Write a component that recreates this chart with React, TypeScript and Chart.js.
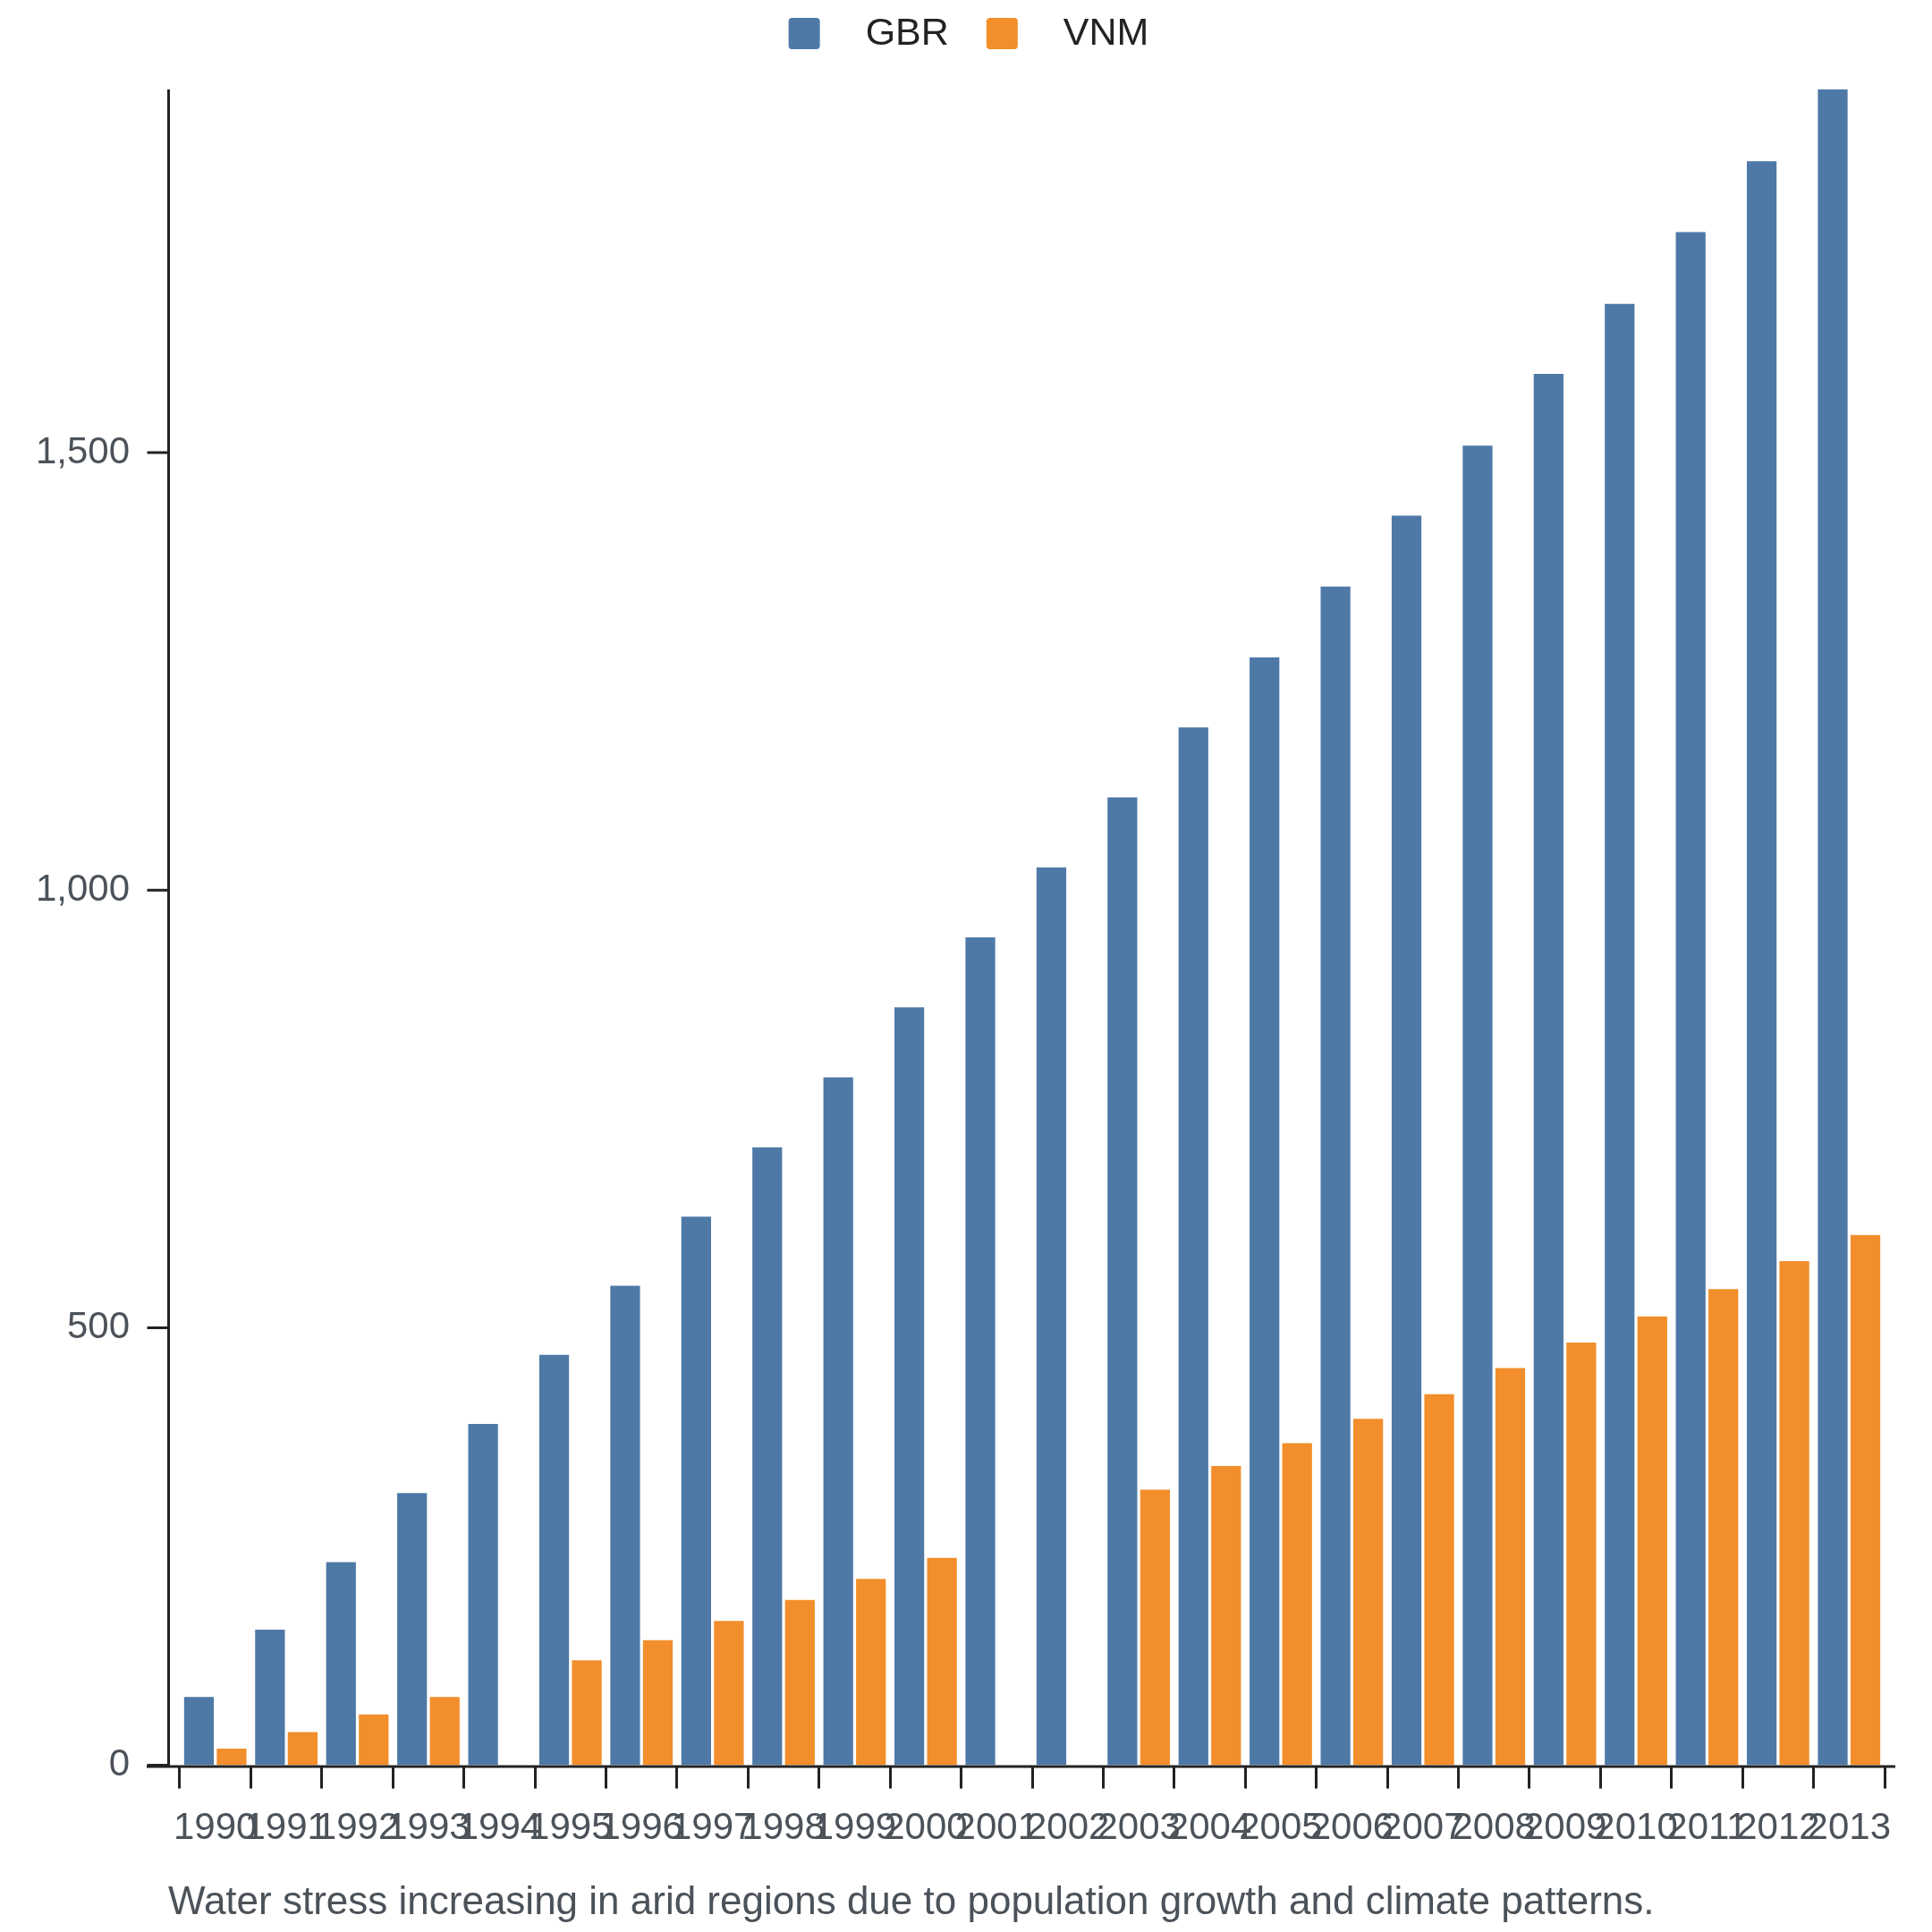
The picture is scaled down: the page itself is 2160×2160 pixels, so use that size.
import { useEffect, useRef } from 'react';
import Chart from 'chart.js/auto';

const years = [
  '1990', '1991', '1992', '1993', '1994', '1995', '1996', '1997', '1998', '1999', '2000', '2001',
  '2002', '2003', '2004', '2005', '2006', '2007', '2008', '2009', '2010', '2011', '2012', '2013',
];
const gbrValues = [
  78, 155, 232, 311, 390, 469, 548, 627, 706, 786, 866, 946,
  1026, 1106, 1186, 1266, 1347, 1428, 1508, 1590, 1670, 1752, 1833, 1915,
];
const vnmValues = [
  19, 38, 58, 78, null, 120, 143, 165, 189, 213, 237, null,
  null, 315, 342, 368, 396, 424, 454, 483, 513, 544, 576, 606,
];
const seriesNames = ['GBR', 'VNM'];
const seriesColors = ['#4e79a7', '#f28e2b'];
const yStep = 500;
const caption = 'Water stress increasing in arid regions due to population growth and climate patterns.';

const FONT = '"Liberation Sans", Arial, sans-serif';
const AXIS_COLOR = '#222222';
const LABEL_COLOR = '#4c5259';

// legend drawn by hand so the gaps match the original
const topLegend = {
  id: 'topLegend',
  afterDraw(chart: Chart) {
    const { ctx, width } = chart;
    const box = 35;
    const textGap = 51;
    const itemGap = 42;
    ctx.save();
    ctx.font = `43px ${FONT}`;
    ctx.textBaseline = 'middle';
    const items = chart.data.datasets.map((ds) => ({
      label: ds.label as string,
      color: ds.backgroundColor as string,
      w: ctx.measureText(ds.label as string).width,
    }));
    const total = items.reduce((s, it) => s + box + textGap + it.w, 0) + itemGap * (items.length - 1);
    let x = (width - total) / 2 + 3;
    const y = 37.5;
    items.forEach((it) => {
      ctx.fillStyle = it.color;
      ctx.beginPath();
      ctx.roundRect(x, y - box / 2, box, box, 4);
      ctx.fill();
      ctx.fillStyle = AXIS_COLOR;
      ctx.fillText(it.label, x + box + textGap, y + 1);
      x += box + textGap + it.w + itemGap;
    });
    ctx.restore();
  },
};

// axis lines sit a little outside the bar bands
const axisLines = {
  id: 'axisLines',
  afterDatasetsDraw(chart: Chart) {
    const { ctx, chartArea } = chart;
    const yScale = chart.scales.y;
    const axisX = chartArea.left - 12.5;
    ctx.save();
    ctx.strokeStyle = AXIS_COLOR;
    ctx.lineWidth = 3;
    ctx.beginPath();
    ctx.moveTo(axisX, chartArea.top);
    ctx.lineTo(axisX, chartArea.bottom + 3);
    ctx.moveTo(chartArea.left - 37, chartArea.bottom + 1.5);
    ctx.lineTo(chartArea.right + 12, chartArea.bottom + 1.5);
    yScale.ticks.forEach((t) => {
      const py = yScale.getPixelForValue(t.value);
      ctx.moveTo(axisX - 24, py);
      ctx.lineTo(axisX, py);
    });
    ctx.stroke();
    ctx.restore();
  },
};

const App = () => {
  const chartRef = useRef<HTMLCanvasElement | null>(null);
  const chartInstance = useRef<Chart | null>(null);

  useEffect(() => {
    if (!chartRef.current) return;
    if (chartInstance.current) chartInstance.current.destroy();

    chartInstance.current = new Chart(chartRef.current, {
      type: 'bar',
      data: {
        labels: years,
        datasets: [
          {
            label: seriesNames[0],
            data: gbrValues,
            backgroundColor: seriesColors[0],
            categoryPercentage: 0.92,
            barPercentage: 0.91,
          },
          {
            label: seriesNames[1],
            data: vnmValues,
            backgroundColor: seriesColors[1],
            categoryPercentage: 0.92,
            barPercentage: 0.91,
          },
        ],
      },
      options: {
        animation: false,
        responsive: true,
        maintainAspectRatio: false,
        layout: { padding: { top: 100, right: 53, bottom: 70, left: 0 } },
        font: { family: FONT },
        plugins: {
          legend: { display: false },
          tooltip: { enabled: false },
        },
        scales: {
          x: {
            offset: true,
            border: { display: false },
            grid: {
              offset: true,
              drawOnChartArea: false,
              drawTicks: true,
              tickLength: 26,
              color: AXIS_COLOR,
              lineWidth: 3,
            },
            ticks: {
              autoSkip: false,
              maxRotation: 0,
              minRotation: 0,
              padding: 20,
              color: LABEL_COLOR,
              font: { family: FONT, size: 42 },
            },
          },
          y: {
            min: 0,
            bounds: 'data',
            border: { display: false },
            grid: { display: false },
            afterFit: (scale) => {
              scale.width = 201;
            },
            // the axis stops at the data maximum, which gets no label
            afterBuildTicks: (scale) => {
              scale.ticks = scale.ticks.filter((t) => t.value % yStep === 0);
            },
            ticks: {
              stepSize: yStep,
              padding: 48,
              color: LABEL_COLOR,
              font: { family: FONT, size: 42 },
              callback: (v) => Number(v).toLocaleString('en-US'),
            },
          },
        },
      },
      plugins: [topLegend, axisLines],
    });

    return () => {
      if (chartInstance.current) {
        chartInstance.current.destroy();
        chartInstance.current = null;
      }
    };
  }, []);

  return (
    <div style={{ position: 'absolute', left: 0, top: 0, width: 2160, height: 2160, background: '#fff' }}>
      <canvas ref={chartRef}></canvas>
      <div
        style={{
          position: 'absolute',
          left: 188,
          top: 2103,
          font: `44px/44px ${FONT}`,
          color: LABEL_COLOR,
          whiteSpace: 'nowrap',
        }}
      >
        {caption}
      </div>
    </div>
  );
};

export default App;
